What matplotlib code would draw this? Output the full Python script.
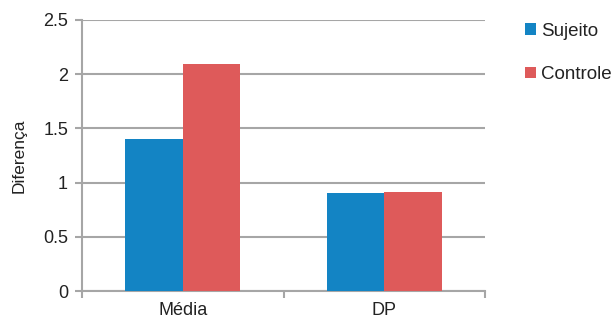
import matplotlib.pyplot as plt
import numpy as np

plt.rcParams["font.family"] = ["Liberation Sans", "DejaVu Sans"]

categories = ["Média", "DP"]
sujeito = [1.40, 0.90]
controle = [2.09, 0.91]
series_names = ["Sujeito", "Controle"]
colors = ["#1384c4", "#de5a5a"]

fig = plt.figure(figsize=(6.16, 3.25), dpi=100)
ax = fig.add_axes([82 / 616, 1 - 291 / 325, (485 - 82) / 616, (291 - 20) / 325])

x = np.arange(len(categories)) + 0.5
w = 1 / 3.5
ax.bar(x - w / 2, sujeito, w, color=colors[0], label=series_names[0], zorder=3)
ax.bar(x + w / 2, controle, w, color=colors[1], label=series_names[1], zorder=3)

grid = "#a6a6a6"
ax.set_xlim(0, len(categories))
ax.set_ylim(0, 2.5)
ax.set_yticks(np.arange(0, 2.51, 0.5))
ax.set_yticklabels(["0", "0.5", "1", "1.5", "2", "2.5"])
ax.yaxis.grid(True, color=grid, linewidth=1.5, zorder=0)
ax.set_axisbelow(True)

# category labels between boundary ticks
ax.set_xticks(np.arange(len(categories) + 1))
ax.set_xticklabels([])
ax.set_xticks(x, minor=True)
ax.set_xticklabels(categories, minor=True)
ax.tick_params(axis="x", which="major", length=5, width=1.5, color=grid)
ax.tick_params(axis="x", which="minor", length=0, labelsize=13, pad=8, colors="#222222")
ax.tick_params(axis="y", length=5, width=1.5, color=grid, labelsize=13, pad=5,
               labelcolor="#222222")

for side in ["top", "right"]:
    ax.spines[side].set_visible(False)
for side in ["left", "bottom"]:
    ax.spines[side].set_color(grid)
    ax.spines[side].set_linewidth(1.5)

ax.set_ylabel("Diferença", fontsize=12.5, color="#222222", labelpad=12)

ax.legend(loc="upper left", bbox_to_anchor=(1.1, 0.99), frameon=False, fontsize=13.5,
          handlelength=0.55, handleheight=0.55, handletextpad=0.28, labelspacing=1.4,
          borderaxespad=0, borderpad=0, labelcolor="#222222")

fig.savefig("out.png", dpi=100)
